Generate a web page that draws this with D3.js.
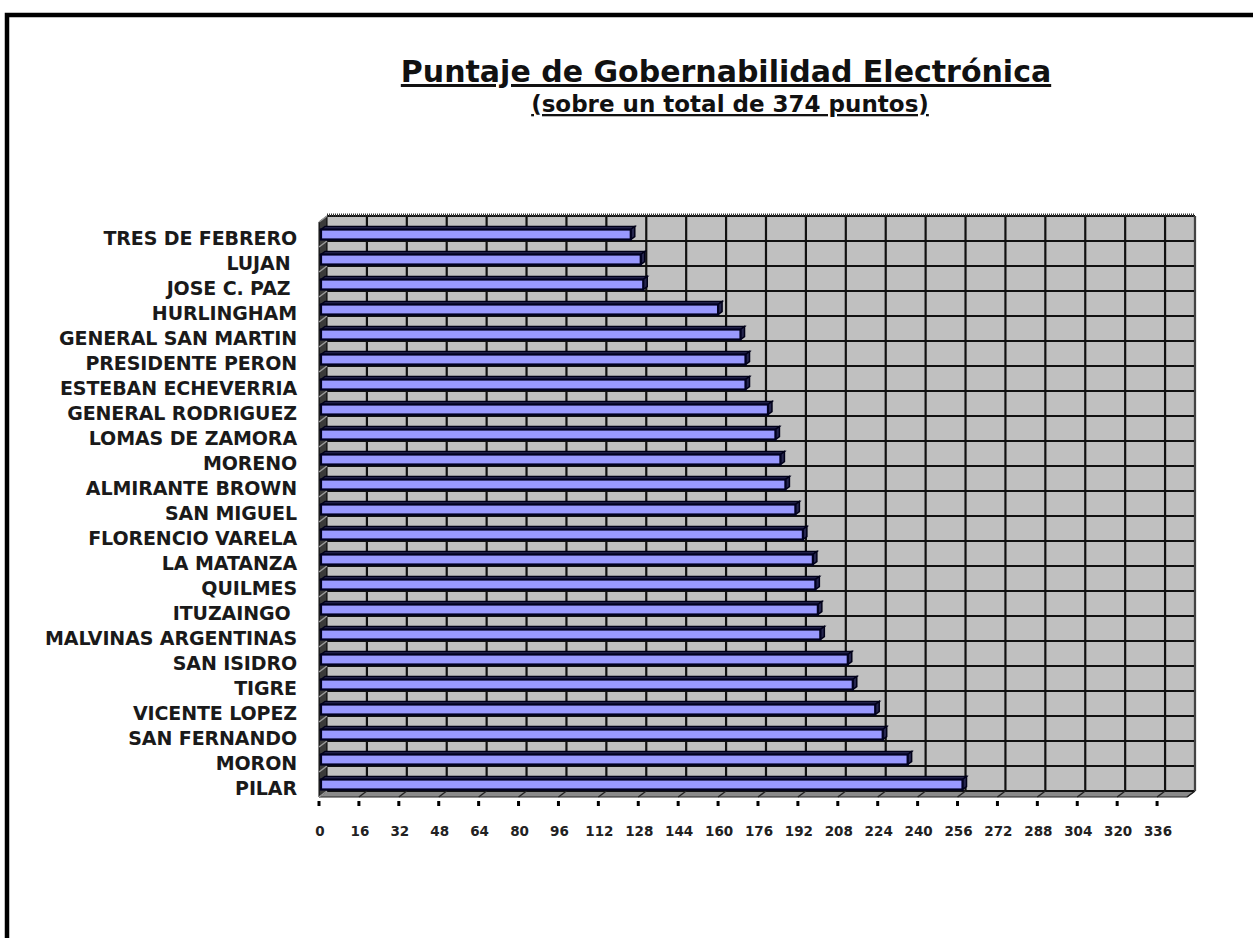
<!DOCTYPE html>
<html><head><meta charset="utf-8">
<script src="https://cdn.jsdelivr.net/npm/d3@7"></script>
<style>body{margin:0;background:#fff}svg text{white-space:pre}</style>
</head><body><svg id="c" width="1253" height="938"></svg>
<script>
const categories = ["TRES DE FEBRERO","LUJAN ","JOSE C. PAZ ","HURLINGHAM","GENERAL SAN MARTIN","PRESIDENTE PERON","ESTEBAN ECHEVERRIA","GENERAL RODRIGUEZ","LOMAS DE ZAMORA","MORENO","ALMIRANTE BROWN","SAN MIGUEL","FLORENCIO VARELA","LA MATANZA","QUILMES","ITUZAINGO ","MALVINAS ARGENTINAS","SAN ISIDRO","TIGRE","VICENTE LOPEZ","SAN FERNANDO","MORON","PILAR"];
const values = [125,129,130,160,169,171,171,180,183,185,187,191,194,198,199,200,201,212,214,223,226,236,258];
const xTicks = [0,16,32,48,64,80,96,112,128,144,160,176,192,208,224,240,256,272,288,304,320,336];
const xMax = 348;
const title = "Puntaje de Gobernabilidad Electrónica";
const subtitle = "(sobre un total de 374 puntos)";

const svg = d3.select("#c");
svg.append("rect").attr("x",7).attr("y",15).attr("width",1300).attr("height",1000)
  .attr("fill","none").attr("stroke","#000").attr("stroke-width",4.5);

const x = d3.scaleLinear().domain([0,xMax]).range([319,1187]);
const y = d3.scaleBand().domain(categories).range([222,797]);
const dx=8, dy=-6;
const X0=x(0), X1=x(xMax), YT=y.range()[0], YB=y.range()[1];
const bw = y.bandwidth();

// back wall
svg.append("polygon").attr("points",[[X0+dx,YT+dy],[X1+dx,YT+dy],[X1+dx,YB+dy],[X0+dx,YB+dy]].join(" "))
  .attr("fill","#c0c0c0");
// floor
svg.append("polygon").attr("points",[[X0,YB],[X1,YB],[X1+dx,YB+dy],[X0+dx,YB+dy]].join(" "))
  .attr("fill","#8a8a8a").attr("stroke","#222").attr("stroke-width",1);
// left wall
svg.append("polygon").attr("points",[[X0,YT],[X0+dx,YT+dy],[X0+dx,YB+dy],[X0,YB]].join(" "))
  .attr("fill","#3a3a3a").attr("stroke","#000").attr("stroke-width",1);

const g = svg.append("g");
const bounds = categories.map(c=>y(c)).concat([YB]);
g.selectAll(".hg").data(bounds).join("line")
  .attr("x1",X0+dx).attr("x2",X1+dx).attr("y1",d=>d+dy).attr("y2",d=>d+dy)
  .attr("stroke","#111").attr("stroke-width",2.2);
g.selectAll(".lg").data(bounds).join("line")
  .attr("x1",X0).attr("x2",X0+dx).attr("y1",d=>d).attr("y2",d=>d+dy)
  .attr("stroke","#999").attr("stroke-width",1.5);
g.selectAll(".vg").data(xTicks.slice(1).concat([xMax])).join("line")
  .attr("x1",d=>x(d)+dx).attr("x2",d=>x(d)+dx).attr("y1",YT+dy).attr("y2",YB+dy)
  .attr("stroke","#111").attr("stroke-width",2.2);
g.selectAll(".fg").data(xTicks.slice(1).concat([xMax])).join("line")
  .attr("x1",d=>x(d)).attr("x2",d=>x(d)+dx).attr("y1",YB).attr("y2",YB+dy)
  .attr("stroke","#222").attr("stroke-width",1.5);
svg.append("line").attr("x1",X0+dx).attr("x2",X1+dx).attr("y1",YT+dy-1).attr("y2",YT+dy-1)
  .attr("stroke","#333").attr("stroke-width",3).attr("stroke-dasharray","1,1");
svg.append("line").attr("x1",X1+dx).attr("x2",X1+dx).attr("y1",YT+dy).attr("y2",YB+dy)
  .attr("stroke","#555").attr("stroke-width",1.5);

// bars
const bh = 10, bd = 4;
const bars = svg.selectAll(".bar").data(categories.map((c,i)=>({c,v:values[i]}))).join("g");
bars.append("polygon").attr("points",d=>{const cy=y(d.c)+bw/2, xs=X0+2, xe=x(d.v);
  return [[xs,cy-bh/2],[xe,cy-bh/2],[xe+bd,cy-bh/2-3],[xs+bd,cy-bh/2-3]].join(" ");})
  .attr("fill","#2c2c5a").attr("stroke","#000018").attr("stroke-width",1.5);
bars.append("polygon").attr("points",d=>{const cy=y(d.c)+bw/2, xe=x(d.v);
  return [[xe,cy-bh/2],[xe+bd,cy-bh/2-3],[xe+bd,cy+bh/2-3],[xe,cy+bh/2]].join(" ");})
  .attr("fill","#26264e").attr("stroke","#000018").attr("stroke-width",1.5);
bars.append("rect").attr("x",X0+2).attr("y",d=>y(d.c)+bw/2-bh/2)
  .attr("width",d=>x(d.v)-X0-2).attr("height",bh)
  .attr("fill","#9999ff").attr("stroke","#000020").attr("stroke-width",2.2);

// axis ticks
svg.selectAll(".tk").data(xTicks).join("rect")
  .attr("x",d=>x(d)-1.5).attr("y",801).attr("width",3).attr("height",5).attr("fill","#000");
svg.selectAll(".tl").data(xTicks).join("text")
  .attr("x",d=>x(d)+1).attr("y",836).attr("text-anchor","middle")
  .attr("font-family","DejaVu Sans").attr("font-weight","bold").attr("font-size",13.5)
  .attr("fill","#222").text(d=>d);

// category labels
svg.selectAll(".cl").data(categories).join("text")
  .attr("x",297).attr("y",d=>y(d)+bw/2+10).attr("text-anchor","end")
  .attr("font-family","DejaVu Sans").attr("font-weight","bold").attr("font-size",19)
  .attr("letter-spacing","-0.1").attr("fill","#1a1a1a").text(d=>d);

// titles
svg.append("text").attr("x",726).attr("y",82).attr("text-anchor","middle")
  .attr("font-family","DejaVu Sans").attr("font-weight","bold").attr("font-size",30)
  .attr("text-decoration","underline").attr("fill","#111").text(title);
svg.append("text").attr("x",730).attr("y",112).attr("text-anchor","middle")
  .attr("font-family","DejaVu Sans").attr("font-weight","bold").attr("font-size",23)
  .attr("text-decoration","underline").attr("fill","#111").text(subtitle);
</script></body></html>
